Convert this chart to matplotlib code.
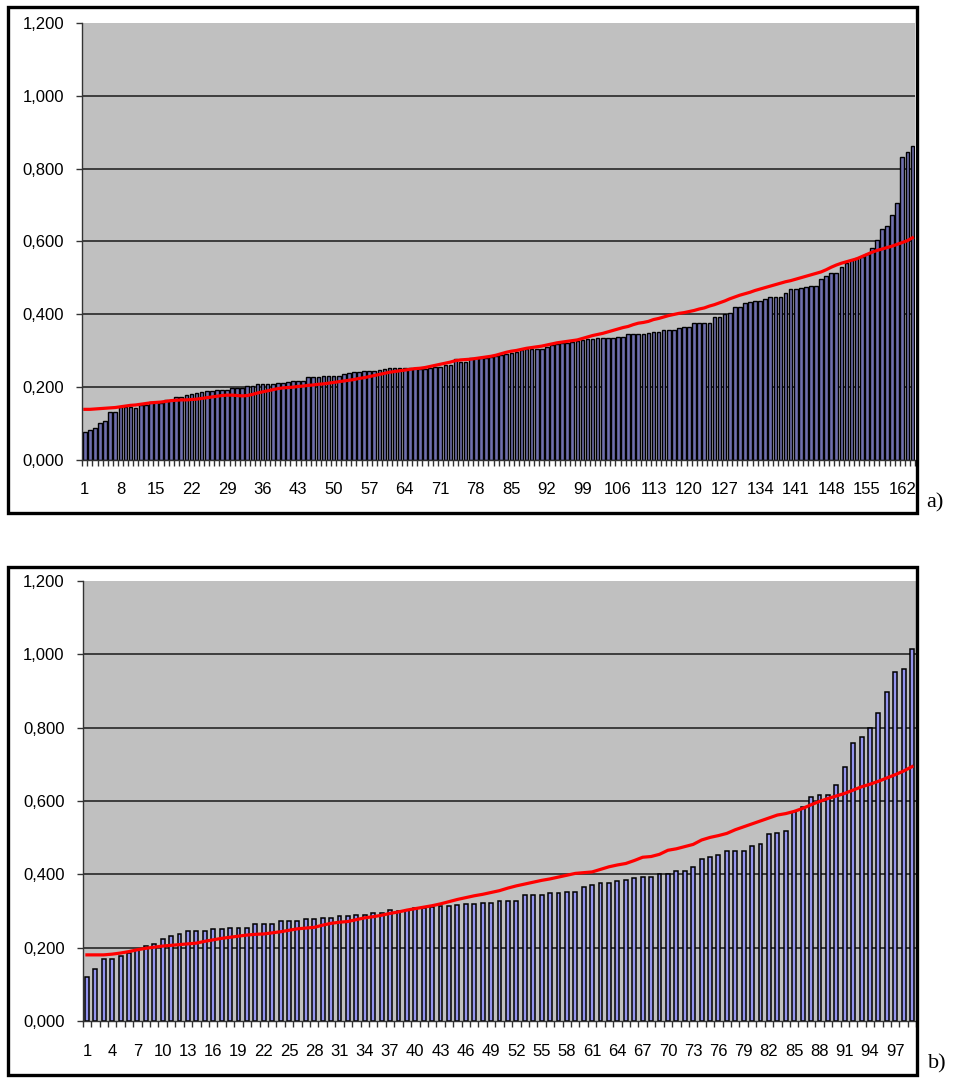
import numpy as np
import matplotlib
matplotlib.use("Agg")
import matplotlib.pyplot as plt
from matplotlib.patches import Rectangle
from matplotlib.ticker import FixedLocator, FuncFormatter

# --- panel a) ---------------------------------------------------------------
bars_a = [
    0.077, 0.081, 0.088, 0.101, 0.107, 0.130, 0.130, 0.145, 0.145, 0.145,
    0.142, 0.150, 0.150, 0.159, 0.159, 0.155, 0.164, 0.165, 0.173, 0.173,
    0.177, 0.179, 0.182, 0.186, 0.189, 0.189, 0.191, 0.191, 0.191, 0.196,
    0.196, 0.196, 0.203, 0.203, 0.207, 0.207, 0.207, 0.207, 0.210, 0.211,
    0.213, 0.217, 0.217, 0.217, 0.226, 0.226, 0.226, 0.230, 0.230, 0.230,
    0.230, 0.235, 0.237, 0.240, 0.241, 0.243, 0.243, 0.243, 0.246, 0.248,
    0.253, 0.253, 0.253, 0.253, 0.253, 0.251, 0.250, 0.250, 0.253, 0.255,
    0.255, 0.260, 0.260, 0.276, 0.269, 0.269, 0.278, 0.278, 0.278, 0.278,
    0.283, 0.286, 0.287, 0.290, 0.294, 0.297, 0.301, 0.303, 0.303, 0.303,
    0.303, 0.310, 0.315, 0.318, 0.320, 0.321, 0.324, 0.326, 0.329, 0.331,
    0.332, 0.333, 0.333, 0.333, 0.333, 0.338, 0.338, 0.344, 0.344, 0.344,
    0.345, 0.347, 0.352, 0.352, 0.356, 0.356, 0.356, 0.361, 0.365, 0.365,
    0.375, 0.375, 0.375, 0.375, 0.393, 0.393, 0.400, 0.404, 0.419, 0.419,
    0.430, 0.434, 0.437, 0.437, 0.442, 0.446, 0.446, 0.446, 0.459, 0.468,
    0.468, 0.471, 0.474, 0.476, 0.476, 0.496, 0.505, 0.512, 0.512, 0.530,
    0.540, 0.549, 0.555, 0.558, 0.565, 0.581, 0.604, 0.634, 0.643, 0.674,
    0.706, 0.831, 0.845, 0.862,
]
line_a = [
    0.138, 0.138, 0.139, 0.140, 0.141, 0.142, 0.143, 0.145, 0.147, 0.149,
    0.150, 0.152, 0.154, 0.156, 0.157, 0.158, 0.160, 0.162, 0.163, 0.164,
    0.164, 0.165, 0.166, 0.168, 0.170, 0.172, 0.174, 0.176, 0.177, 0.177,
    0.176, 0.175, 0.176, 0.179, 0.183, 0.186, 0.189, 0.192, 0.195, 0.197,
    0.198, 0.199, 0.201, 0.202, 0.204, 0.205, 0.207, 0.208, 0.210, 0.212,
    0.214, 0.216, 0.218, 0.220, 0.223, 0.225, 0.228, 0.231, 0.234, 0.237,
    0.240, 0.242, 0.244, 0.246, 0.248, 0.250, 0.251, 0.253, 0.256, 0.259,
    0.262, 0.265, 0.268, 0.272, 0.274, 0.275, 0.276, 0.278, 0.280, 0.282,
    0.284, 0.287, 0.291, 0.295, 0.298, 0.300, 0.303, 0.306, 0.308, 0.310,
    0.312, 0.315, 0.318, 0.321, 0.323, 0.325, 0.327, 0.329, 0.333, 0.337,
    0.341, 0.344, 0.347, 0.351, 0.355, 0.359, 0.363, 0.366, 0.371, 0.375,
    0.377, 0.380, 0.385, 0.388, 0.392, 0.396, 0.399, 0.402, 0.404, 0.407,
    0.410, 0.414, 0.417, 0.422, 0.426, 0.431, 0.436, 0.442, 0.447, 0.452,
    0.456, 0.460, 0.465, 0.469, 0.473, 0.477, 0.481, 0.485, 0.489, 0.492,
    0.496, 0.500, 0.504, 0.508, 0.512, 0.516, 0.522, 0.529, 0.535, 0.540,
    0.544, 0.548, 0.552, 0.558, 0.564, 0.570, 0.575, 0.579, 0.583, 0.587,
    0.592, 0.597, 0.602, 0.610,
]
labels_a = list(range(1, 165, 7))

# --- panel b) ---------------------------------------------------------------
bars_b = [
    0.122, 0.142, 0.171, 0.171, 0.179, 0.186, 0.194, 0.205, 0.211, 0.224,
    0.233, 0.238, 0.247, 0.247, 0.247, 0.252, 0.252, 0.255, 0.255, 0.255,
    0.264, 0.264, 0.264, 0.273, 0.273, 0.273, 0.278, 0.278, 0.282, 0.282,
    0.286, 0.286, 0.290, 0.290, 0.294, 0.294, 0.303, 0.300, 0.303, 0.308,
    0.308, 0.312, 0.314, 0.314, 0.317, 0.319, 0.319, 0.323, 0.323, 0.328,
    0.328, 0.328, 0.344, 0.344, 0.344, 0.349, 0.349, 0.353, 0.353, 0.367,
    0.371, 0.376, 0.376, 0.381, 0.385, 0.390, 0.394, 0.394, 0.400, 0.400,
    0.410, 0.410, 0.421, 0.443, 0.449, 0.452, 0.465, 0.465, 0.465, 0.478,
    0.483, 0.510, 0.514, 0.518, 0.571, 0.583, 0.612, 0.617, 0.616, 0.644,
    0.694, 0.757, 0.774, 0.798, 0.841, 0.898, 0.952, 0.961, 1.015,
]
line_b = [
    0.181, 0.181, 0.181, 0.183, 0.186, 0.190, 0.195, 0.199, 0.202, 0.205,
    0.207, 0.209, 0.211, 0.213, 0.218, 0.222, 0.226, 0.229, 0.232, 0.235,
    0.237, 0.238, 0.241, 0.244, 0.248, 0.252, 0.254, 0.256, 0.262, 0.267,
    0.270, 0.272, 0.277, 0.282, 0.285, 0.289, 0.294, 0.298, 0.303, 0.307,
    0.311, 0.315, 0.320, 0.326, 0.332, 0.337, 0.342, 0.346, 0.351, 0.356,
    0.363, 0.369, 0.374, 0.379, 0.384, 0.388, 0.393, 0.398, 0.403, 0.405,
    0.407, 0.414, 0.421, 0.426, 0.430, 0.438, 0.447, 0.449, 0.455, 0.466,
    0.470, 0.476, 0.482, 0.494, 0.501, 0.506, 0.512, 0.522, 0.530, 0.538,
    0.546, 0.554, 0.562, 0.566, 0.572, 0.580, 0.590, 0.599, 0.607, 0.614,
    0.621, 0.630, 0.639, 0.646, 0.654, 0.663, 0.672, 0.682, 0.694,
]
labels_b = list(range(1, 100, 3))

y_ticks = [0.0, 0.2, 0.4, 0.6, 0.8, 1.0, 1.2]

plt.rcParams["font.family"] = ["Liberation Sans", "DejaVu Sans"]

W, H = 954, 1084
fig = plt.figure(figsize=(W / 100, H / 100), dpi=100)


def fx(px):
    return px / W


def fy(py):
    return 1 - py / H


def panel(ax, values, line, labels, width, fill, edge_lw):
    n = len(values)
    x = np.arange(1, n + 1)
    ax.set_facecolor("#c0c0c0")
    ax.bar(x, values, width=width, color=fill, edgecolor="black",
           linewidth=edge_lw, zorder=3)
    ax.plot(x, line, color="#ff0000", lw=2.3, zorder=4,
            solid_joinstyle="round")
    ax.set_xlim(0.5, n + 0.5)
    ax.set_ylim(0, 1.2)
    for v in y_ticks[1:-1]:
        ax.axhline(v, color="#1a1a1a", lw=1.1, zorder=2)
    ax.yaxis.set_major_locator(FixedLocator(y_ticks))
    ax.yaxis.set_major_formatter(
        FuncFormatter(lambda v, p: f"{v:.3f}".replace(".", ",")))
    ax.xaxis.set_major_locator(FixedLocator(labels))
    ax.xaxis.set_major_formatter(FuncFormatter(lambda v, p: f"{int(round(v))}"))
    ax.xaxis.set_minor_locator(FixedLocator(np.arange(0.5, n + 1.0, 1.0)))
    ax.tick_params(axis="x", which="major", length=0, pad=16,
                   labelsize=12, colors="black")
    ax.tick_params(axis="x", which="minor", length=4, width=1,
                   direction="out", color="#333333")
    ax.tick_params(axis="y", which="major", length=4, width=1,
                   direction="out", pad=9, labelsize=12, color="#333333")
    for s in ("top", "right"):
        ax.spines[s].set_visible(False)
    for s in ("left", "bottom"):
        ax.spines[s].set_color("#333333")
        ax.spines[s].set_linewidth(1.0)
        ax.spines[s].set_zorder(5)


# panel a) axes
ax_a = fig.add_axes([fx(82.3), fy(459.5), fx(915.0 - 82.3), fy(23.3) - fy(459.5)])
panel(ax_a, bars_a, line_a, labels_a, 0.72, "#6f6fae", 1.0)

# panel b) axes
ax_b = fig.add_axes([fx(82.7), fy(1021.3), fx(916.3 - 82.7), fy(580.9) - fy(1021.3)])
panel(ax_b, bars_b, line_b, labels_b, 0.46, "#9494ee", 1.1)

# frames around each panel
for top, bottom in ((7, 513), (567, 1075)):
    fig.patches.append(Rectangle((fx(8), fy(bottom)), fx(917 - 8), fy(top) - fy(bottom),
                                 transform=fig.transFigure, fill=False,
                                 edgecolor="black", linewidth=2.4, zorder=10))

fig.text(fx(926), fy(507), "a)", fontsize=16, family=["Liberation Serif", "DejaVu Serif"],
         ha="left", va="baseline")
fig.text(fx(928), fy(1068), "b)", fontsize=16, family=["Liberation Serif", "DejaVu Serif"],
         ha="left", va="baseline")

fig.savefig("out.png", dpi=100, facecolor="white")
